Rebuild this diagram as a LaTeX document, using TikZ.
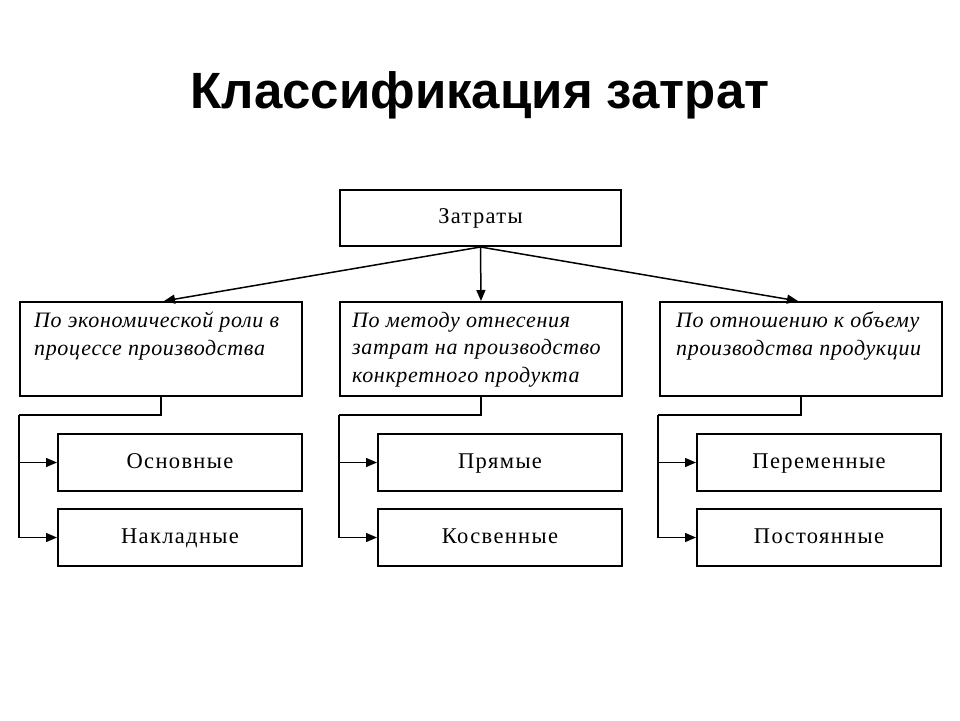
\documentclass[tikz,border=0pt]{standalone}
\usepackage{fontspec}
\setmainfont{Liberation Serif}
\newfontfamily\titlefont{Liberation Sans}
\newfontfamily\spacedfont[LetterSpace=6]{Liberation Serif}
\newfontfamily\catfont[LetterSpace=3]{Liberation Serif}
\usetikzlibrary{arrows.meta}
\begin{document}
\begin{tikzpicture}[x=1pt,y=-1pt,
  boxsty/.style={draw, line width=2pt, inner sep=0pt, anchor=north west, text height=15pt, text depth=4pt},
  topsty/.style={boxsty, minimum width=281pt, minimum height=56pt, font=\spacedfont\fontsize{22.5}{24}\selectfont},
  catsty/.style={boxsty, minimum width=282pt, minimum height=94pt},
  substy/.style={boxsty, minimum width=244pt, minimum height=57pt, font=\spacedfont\fontsize{22.5}{24}\selectfont},
  cattext/.style={anchor=north west, align=left, inner sep=0pt, font=\catfont\itshape\fontsize{22}{27.5}\selectfont},
  arrowsty/.style={line width=1.5pt, -{Triangle[length=11pt,width=9pt]}},
  linksty/.style={line width=1.8pt},
  titlesty/.style={font=\titlefont\bfseries\fontsize{51}{58}\selectfont, inner sep=0pt}
]
\useasboundingbox[fill=white] (0,0) rectangle (960,720);
\node[titlesty] (title) at (480,95) {Классификация затрат};

\node[topsty] (top) at (339,189) {Затраты};

\node[catsty] (c1) at (19,301) {};
\node[catsty] (c2) at (339,301) {};
\node[catsty] (c3) at (659,301) {};

\node[cattext] (t1) at (34,312) {По экономической роли в\\процессе производства};
\node[cattext] (t2) at (352,312) {По методу отнесения\\затрат на производство\\конкретного продукта};
\node[cattext] (t3) at (676,312) {По отношению к объему\\производства продукции};

\node[substy] (s11) at (57,433) {Основные};
\node[substy] (s12) at (57,508) {Накладные};
\node[substy] (s21) at (377,433) {Прямые};
\node[substy] (s22) at (377,508) {Косвенные};
\node[substy] (s31) at (696,433) {Переменные};
\node[substy] (s32) at (696,508) {Постоянные};

\draw[arrowsty] (top.south) -- ([xshift=3pt]c1.north);
\draw[arrowsty] (top.south) -- (c2.north);
\draw[arrowsty] (top.south) -- ([xshift=-3pt]c3.north);

\coordinate (k1) at (19,415);
\coordinate (k2) at (339,415);
\coordinate (k3) at (658,415);

\draw[linksty] (c1.south) |- (k1);
\draw[arrowsty] (k1) |- (s12.west);
\draw[arrowsty] (k1 |- s11.west) -- (s11.west);

\draw[linksty] (c2.south) |- (k2);
\draw[arrowsty] (k2) |- (s22.west);
\draw[arrowsty] (k2 |- s21.west) -- (s21.west);

\draw[linksty] (c3.south) |- (k3);
\draw[arrowsty] (k3) |- (s32.west);
\draw[arrowsty] (k3 |- s31.west) -- (s31.west);
\end{tikzpicture}
\end{document}
